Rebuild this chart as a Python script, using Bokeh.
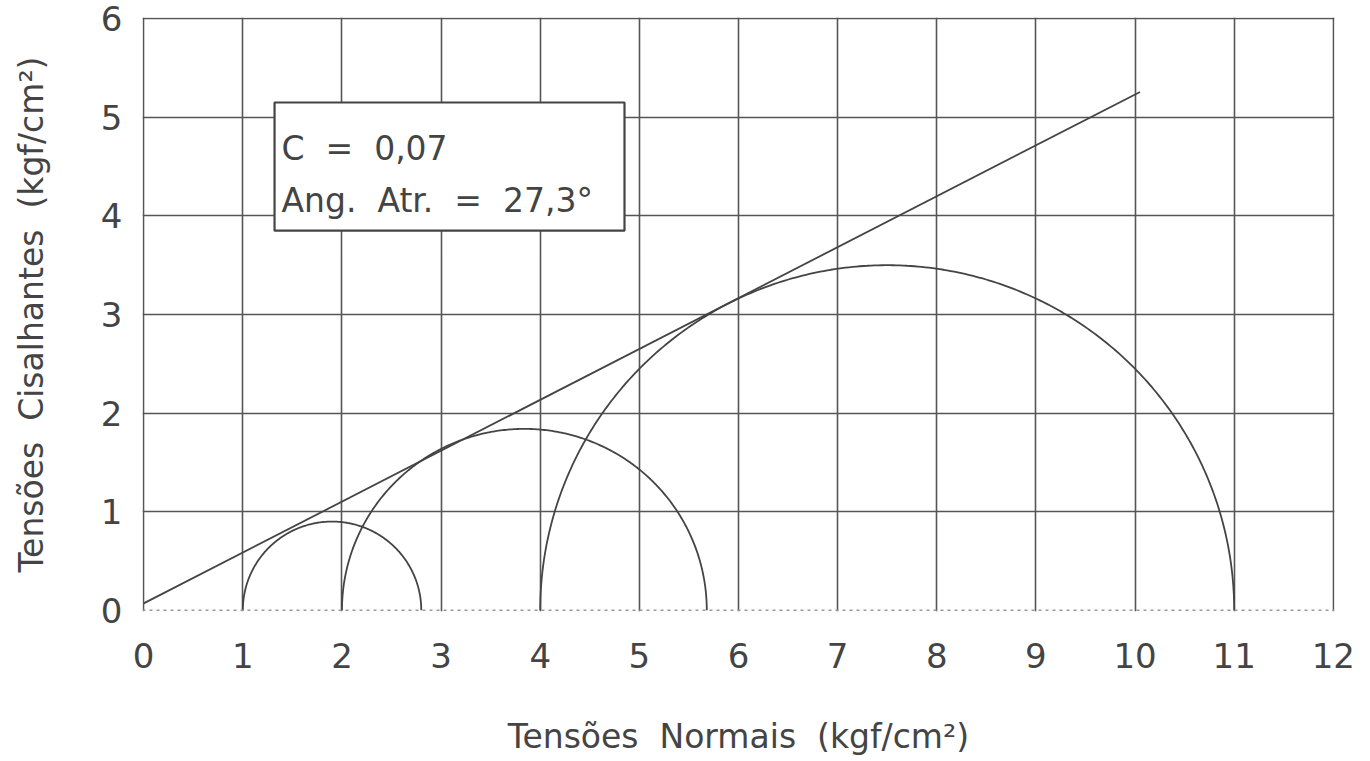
import numpy as np
from bokeh.plotting import figure
from bokeh.models import Range1d, FixedTicker, Span
from bokeh.core.properties import value
from bokeh.embed import file_html
from bokeh.resources import INLINE

# Mohr circles: minor and major principal stresses (kgf/cm2)
sigma3 = [1.0, 2.0, 4.0]
sigma1 = [2.8, 5.68, 11.0]

# Failure envelope
cohesion = 0.07
phi_deg = 27.3
envelope_x = [0.0, 10.05]

x_ticks = list(range(0, 13))
y_ticks = list(range(0, 7))

SP = " \u00a0"  # wide (double) space as in the original plot
info_lines = ["C" + SP + "=" + SP + "0,07",
              "Ang." + SP + "Atr." + SP + "=" + SP + "27,3°"]

INK = "#444444"
FONT = "DejaVu Sans"

p = figure(width=1370, height=761, output_backend="svg", toolbar_location=None,
           x_range=Range1d(-0.012, 12.012), y_range=Range1d(-0.012, 6.012))
p.min_border_left = 142
p.min_border_right = 36
p.min_border_top = 17
p.min_border_bottom = 150
p.outline_line_color = None
p.background_fill_color = "white"
p.border_fill_color = "white"

for ax in (p.xaxis[0], p.yaxis[0]):
    ax.axis_line_color = None
    ax.major_tick_line_color = None
    ax.minor_tick_line_color = None
    ax.major_label_text_font = FONT
    ax.major_label_text_color = INK
    ax.major_label_text_font_size = "34px"
    ax.axis_label_text_font = FONT
    ax.axis_label_text_font_style = "normal"
    ax.axis_label_text_color = INK

p.xaxis.ticker = FixedTicker(ticks=x_ticks)
p.yaxis.ticker = FixedTicker(ticks=y_ticks)
p.xaxis.major_label_standoff = 25
p.yaxis.major_label_standoff = 14
p.xaxis.axis_label = "Tensões" + SP + "Normais" + SP + "(kgf/cm²)"
p.yaxis.axis_label = "Tensões" + SP + "Cisalhantes" + SP + "(kgf/cm²)"
p.xaxis.axis_label_text_font_size = "33px"
p.yaxis.axis_label_text_font_size = "33px"
p.xaxis.axis_label_standoff = 46
p.yaxis.axis_label_standoff = 47

p.xgrid.ticker = FixedTicker(ticks=x_ticks)
p.ygrid.ticker = FixedTicker(ticks=y_ticks[1:])
for g in (p.xgrid[0], p.ygrid[0]):
    g.grid_line_color = "#555555"
    g.grid_line_width = 1.6
    g.grid_line_alpha = 1.0

p.add_layout(Span(location=0, dimension="width", line_color="#999999",
                  line_width=1.5, line_dash="3 4"))

# Mohr semicircles
theta = np.linspace(0, np.pi, 300)
xs, ys = [], []
for s3, s1 in zip(sigma3, sigma1):
    c = (s1 + s3) / 2.0
    r = (s1 - s3) / 2.0
    xs.append(list(c + r * np.cos(theta)))
    ys.append(list(r * np.sin(theta)))
p.multi_line(xs, ys, line_color=INK, line_width=1.8)

# Envelope
tanphi = np.tan(np.radians(phi_deg))
env_y = [cohesion + tanphi * x for x in envelope_x]
p.line(envelope_x, env_y, line_color=INK, line_width=1.8)

# Info box
p.quad(left=1.32, right=4.85, bottom=3.85, top=5.15, fill_color="white",
       line_color=INK, line_width=2.2)
p.text(x=[1.39, 1.39], y=[4.68, 4.16], text=info_lines,
       text_font=value(FONT), text_font_size="33px", text_color=INK,
       text_baseline="middle", text_align="left")

open("out.html", "w").write(file_html(p, INLINE))
